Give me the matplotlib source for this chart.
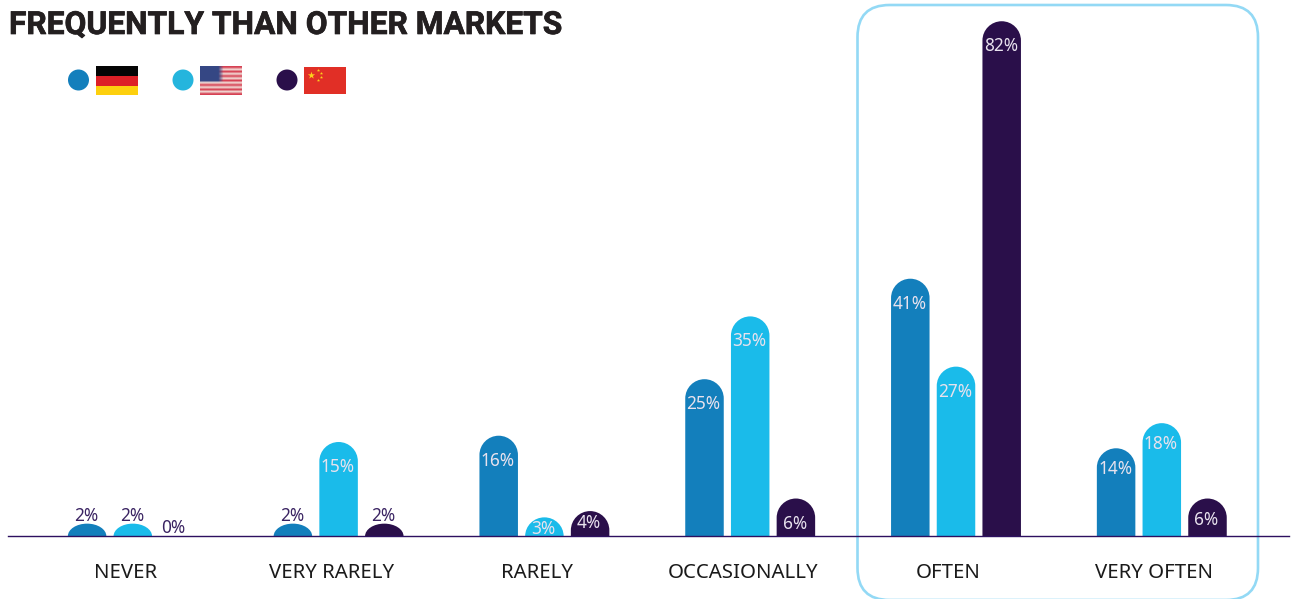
import numpy as np
import matplotlib
matplotlib.use('Agg')
import matplotlib.pyplot as plt
import matplotlib.patheffects as pe
from matplotlib.patches import Ellipse, FancyBboxPatch, PathPatch, Rectangle
from matplotlib.path import Path

WIDTH, HEIGHT = 1295, 599

CATEGORIES = ['NEVER', 'VERY RARELY', 'RARELY', 'OCCASIONALLY', 'OFTEN', 'VERY OFTEN']
GERMANY = [2, 2, 16, 25, 41, 14]
USA = [2, 15, 3, 35, 27, 18]
CHINA = [0, 2, 4, 6, 82, 6]

COL_DE = '#137fbc'
COL_US = '#1abbea'
COL_CN = '#2a0f4a'
COL_AXIS = '#2d1060'
COL_FRAME = '#93d9f5'
COL_LABEL_OUT = '#3a2362'
COL_LABEL_IN = '#e8e2ee'

BASE_Y = 536.2       # pixel row of the axis line
PX_PER_PCT = 6.28
GROUP_PX = 205.8
FIRST_GROUP_PX = 132.8
BAR_OFFSET = 45.7 / GROUP_PX
BAR_WIDTH = 38.5 / GROUP_PX
PT_PER_PX = 0.72

plt.rcParams['font.family'] = ['Noto Sans', 'DejaVu Sans']


def rounded_bar(x, height, width, cap):
    """Bar path with an elliptical top; the cap flattens on very short bars."""
    ry = min(cap, height)
    left, right = x - width / 2, x + width / 2
    k = 0.5523
    rx = width / 2
    shoulder = height - ry
    verts = [(left, 0), (left, shoulder),
             (left, shoulder + k * ry), (x - k * rx, height), (x, height),
             (x + k * rx, height), (right, shoulder + k * ry), (right, shoulder),
             (right, 0), (left, 0)]
    codes = [Path.MOVETO, Path.LINETO,
             Path.CURVE4, Path.CURVE4, Path.CURVE4,
             Path.CURVE4, Path.CURVE4, Path.CURVE4,
             Path.LINETO, Path.CLOSEPOLY]
    return Path(verts, codes)


def draw_value_label(ax, x, value, last_group):
    # Tall bars carry the label inside, short ones just under the cap, tiny ones above
    shift = -1
    if value == 0:
        offset, color, shift = 8, COL_LABEL_OUT, -5
    elif value <= 2:
        offset, color = 8, COL_LABEL_OUT
    elif value <= 4:
        offset, color = -12, COL_LABEL_IN
    elif last_group:
        offset, color = -21, COL_LABEL_IN
    else:
        offset, color = -25, COL_LABEL_IN
    ax.annotate(f'{value}%', (x, value), xytext=(shift * PT_PER_PX, offset * PT_PER_PX),
                textcoords='offset points', ha='center', va='center',
                fontsize=12.4, color=color, zorder=5)


def draw_flags(bg):
    # Germany
    for top, color in zip([66, 76, 85.5], ['#050505', '#dd2027', '#fdd00e']):
        bg.add_patch(Rectangle((96, top), 42, 9.7, color=color, lw=0, zorder=2))

    # USA: coarse stripes and canton, softened by bilinear resampling
    stripes = np.ones((13, 8, 3))
    for row in range(13):
        stripes[row, :] = (0.84, 0.26, 0.33) if row % 2 == 0 else (0.95, 0.86, 0.84)
    stripes[:7, :4] = (0.21, 0.28, 0.52)
    bg.imshow(stripes, extent=(200, 242, 95, 66), interpolation='bilinear',
              aspect='auto', zorder=2)

    # China
    bg.add_patch(Rectangle((304, 67), 42, 27, color='#e12f26', lw=0, zorder=2))
    bg.scatter([311], [75], marker='*', s=30, color='#fbd21c', lw=0, zorder=3)
    bg.scatter([318, 321, 321, 318], [70, 73, 77, 80], marker='*', s=6,
               color='#fbd21c', lw=0, zorder=3)


def main():
    fig = plt.figure(figsize=(WIDTH / 100, HEIGHT / 100), dpi=100, facecolor='white')

    # Pixel-space layer for the title, key and highlight frame
    bg = fig.add_axes([0, 0, 1, 1], zorder=0)
    bg.set_axis_off()

    bg.text(9, 25, 'FREQUENTLY THAN OTHER MARKETS', family='Roboto',
            fontweight='bold', fontsize=22.85, color='#231f20', ha='left', va='center',
            path_effects=[pe.withStroke(linewidth=0.5, foreground='#231f20')])

    for cx, color in zip([78.5, 183, 287], [COL_DE, '#25b5dd', COL_CN]):
        bg.add_patch(Ellipse((cx, 80), 21, 21, color=color, lw=0, zorder=2))
    draw_flags(bg)

    bg.add_patch(FancyBboxPatch((857.5, 5), 400.5, 595, boxstyle='round,pad=0,rounding_size=32',
                                fill=False, edgecolor=COL_FRAME, lw=1.9, zorder=1))
    bg.set_xlim(0, WIDTH)
    bg.set_ylim(HEIGHT, 0)

    ax = fig.add_axes([8 / WIDTH, (HEIGHT - BASE_Y) / HEIGHT, 1281 / WIDTH, BASE_Y / HEIGHT], zorder=1)
    ax.patch.set_alpha(0)
    ax.set_xlim((8 - FIRST_GROUP_PX) / GROUP_PX, (1289 - FIRST_GROUP_PX) / GROUP_PX)
    ax.set_ylim(0, BASE_Y / PX_PER_PCT)

    cap = (38.5 / 2) / PX_PER_PCT
    positions = np.arange(len(CATEGORIES))
    series = [(GERMANY, COL_DE, -BAR_OFFSET), (USA, COL_US, 0), (CHINA, COL_CN, BAR_OFFSET)]
    for values, color, shift in series:
        for pos, value in zip(positions, values):
            x = pos + shift
            if value > 0:
                ax.add_patch(PathPatch(rounded_bar(x, value, BAR_WIDTH, cap), facecolor=color,
                                       edgecolor='none', zorder=3))
            draw_value_label(ax, x, value, pos == positions[-1])

    for side in ['top', 'left', 'right']:
        ax.spines[side].set_visible(False)
    ax.spines['bottom'].set_color(COL_AXIS)
    ax.spines['bottom'].set_linewidth(1.0)
    ax.spines['bottom'].set_zorder(6)
    ax.set_yticks([])
    ax.set_xticks([])

    # Category names sit a little left of their group centres
    for pos, name in zip(positions, CATEGORIES):
        ax.annotate(name, (pos, 0), xytext=(-7.5 * PT_PER_PX, -37 * PT_PER_PX),
                    textcoords='offset points', ha='center', va='center',
                    fontsize=14.7, color='#1a1a1a', annotation_clip=False)

    fig.savefig('out.png', dpi=100)
    plt.close(fig)


if __name__ == "__main__":
    main()
